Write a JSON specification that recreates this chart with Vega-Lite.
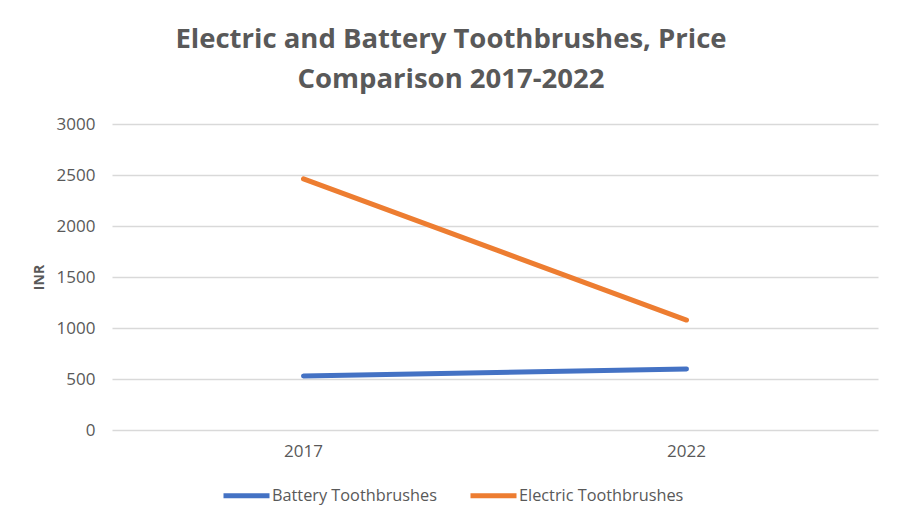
{
  "$schema": "https://vega.github.io/schema/vega-lite/v6.json",
  "width": 766,
  "height": 306,
  "autosize": "none",
  "padding": {"left": 112, "top": 124, "right": 24, "bottom": 97},
  "background": "white",
  "title": {
    "text": ["Electric and Battery Toothbrushes, Price", "Comparison 2017-2022"],
    "font": "Open Sans",
    "fontSize": 27.5,
    "fontWeight": "bold",
    "color": "#595959",
    "anchor": "middle",
    "dx": -44,
    "offset": 22,
    "lineHeight": 40
  },
  "data": {
    "values": [
      {"year": "2017", "series": "Battery Toothbrushes", "price": 530},
      {"year": "2022", "series": "Battery Toothbrushes", "price": 598},
      {"year": "2017", "series": "Electric Toothbrushes", "price": 2462},
      {"year": "2022", "series": "Electric Toothbrushes", "price": 1078}
    ]
  },
  "mark": {"type": "line", "strokeWidth": 5, "strokeCap": "round"},
  "encoding": {
    "x": {
      "field": "year",
      "type": "ordinal",
      "scale": {"type": "band", "paddingInner": 0, "paddingOuter": 0},
      "axis": {
        "title": null,
        "labelAngle": 0,
        "ticks": false,
        "domain": false,
        "labelPadding": 13,
        "labelFont": "Open Sans",
        "labelFontSize": 17,
        "labelColor": "#595959"
      }
    },
    "y": {
      "field": "price",
      "type": "quantitative",
      "scale": {"domain": [0, 3000]},
      "axis": {
        "title": "INR",
        "titleFont": "Open Sans",
        "titleFontSize": 14,
        "titleFontWeight": "bold",
        "titleColor": "#595959",
        "titlePadding": 10,
        "values": [0, 500, 1000, 1500, 2000, 2500, 3000],
        "format": "d",
        "ticks": false,
        "domain": false,
        "labelPadding": 17,
        "labelFont": "Open Sans",
        "labelFontSize": 17,
        "labelColor": "#595959",
        "gridColor": "#D9D9D9",
        "gridWidth": 1.5
      }
    },
    "color": {
      "field": "series",
      "type": "nominal",
      "scale": {
        "domain": ["Battery Toothbrushes", "Electric Toothbrushes"],
        "range": ["#4472C4", "#ED7D31"]
      },
      "legend": {
        "title": null,
        "orient": "none",
        "legendX": 109,
        "legendY": 346,
        "direction": "horizontal",
        "symbolType": "stroke",
        "symbolSize": 2116,
        "symbolStrokeWidth": 5,
        "symbolOffset": 0,
        "labelOffset": 0,
        "labelLimit": 400,
        "columnPadding": 23,
        "labelFont": "Open Sans",
        "labelFontSize": 16.3,
        "labelColor": "#595959"
      }
    }
  },
  "config": {"view": {"stroke": null}}
}
